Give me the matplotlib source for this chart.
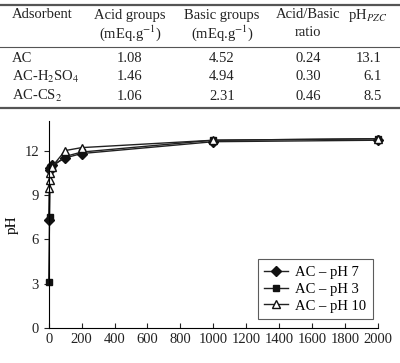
import numpy as np
import matplotlib
matplotlib.use('Agg')
import matplotlib.pyplot as plt

plt.rcParams['font.family'] = ['Liberation Serif', 'DejaVu Serif']
plt.rcParams['mathtext.fontset'] = 'stix'

# table data
adsorbents = ['AC', 'AC-H$_2$SO$_4$', 'AC-CS$_2$']
acid_groups = ['1.08', '1.46', '1.06']
basic_groups = ['4.52', '4.94', '2.31']
ratio = ['0.24', '0.30', '0.46']
ph_pzc = ['13.1', '6.1', '8.5']

# chart data
x = [0, 5, 10, 20, 100, 200, 1000, 2000]
ph7 = [7.3, 10.7, 10.8, 11.0, 11.5, 11.8, 12.6, 12.7]
ph3 = [3.1, 7.5, 10.8, 10.9, 11.6, 11.9, 12.7, 12.8]
ph10 = [9.5, 10.0, 10.5, 10.9, 12.0, 12.2, 12.7, 12.8]

W, H = 400, 363
fig = plt.figure(figsize=(W / 100, H / 100), dpi=100)

def fy(py):
    return 1 - py / H

def fx(px):
    return px / W

# table rules
for py, lw in [(5, 1.6), (47, 0.8), (108, 1.6)]:
    fig.add_artist(plt.Line2D([0, 1], [fy(py), fy(py)], color='#555555', lw=lw,
                              transform=fig.transFigure))

fs = 10.5
hdr = [(12, 'left', 'Adsorbent', None),
       (130, 'center', 'Acid groups', '(mEq.g$^{-1}$)'),
       (222, 'center', 'Basic groups', '(mEq.g$^{-1}$)'),
       (308, 'center', 'Acid/Basic', 'ratio'),
       (368, 'center', 'pH$_{PZC}$', None)]
for px, ha, l1, l2 in hdr:
    fig.text(fx(px), fy(15), l1, ha=ha, va='center', fontsize=fs, color='#222222')
    if l2:
        fig.text(fx(px), fy(33), l2, ha=ha, va='center', fontsize=fs, color='#222222')

rows_y = [58, 77, 96]
for i, py in enumerate(rows_y):
    fig.text(fx(12), fy(py), adsorbents[i], ha='left', va='center', fontsize=fs, color='#222222')
    fig.text(fx(130), fy(py), acid_groups[i], ha='center', va='center', fontsize=fs, color='#222222')
    fig.text(fx(222), fy(py), basic_groups[i], ha='center', va='center', fontsize=fs, color='#222222')
    fig.text(fx(308), fy(py), ratio[i], ha='center', va='center', fontsize=fs, color='#222222')
    fig.text(fx(382), fy(py), ph_pzc[i], ha='right', va='center', fontsize=fs, color='#222222')

# chart
ax = fig.add_axes([fx(48.7), fy(328), fx(378) - fx(48.7), fy(121) - fy(328)])
ax.plot(x, ph7, '-', color='#222222', lw=1, marker='D', ms=5, mfc='#111111', mec='#111111',
        label='AC – pH 7')
ax.plot(x, ph3, '-', color='#222222', lw=1, marker='s', ms=5, mfc='#111111', mec='#111111',
        label='AC – pH 3')
ax.plot(x, ph10, '-', color='#222222', lw=1, marker='^', ms=5.5, mfc='white', mec='#111111',
        label='AC – pH 10')

ax.set_xlim(0, 2000)
ax.set_ylim(0, 14)
ax.set_xticks(np.arange(0, 2001, 200))
ax.set_yticks([0, 3, 6, 9, 12])
ax.spines['top'].set_visible(False)
ax.spines['right'].set_visible(False)
ax.tick_params(axis='both', labelsize=10.5, colors='#222222')
ax.tick_params(axis='x', direction='in')
ax.set_ylabel('pH', fontsize=11)
for ln in ax.lines:
    ln.set_clip_on(False)

leg = ax.legend(loc='lower right', bbox_to_anchor=(0.984, 0.043), fontsize=10.5,
                frameon=True, fancybox=False, edgecolor='#333333', handlelength=1.6,
                borderpad=0.45, labelspacing=0.25, handletextpad=0.5, borderaxespad=0)
leg.get_frame().set_linewidth(0.8)

fig.savefig('out.png', dpi=100)
